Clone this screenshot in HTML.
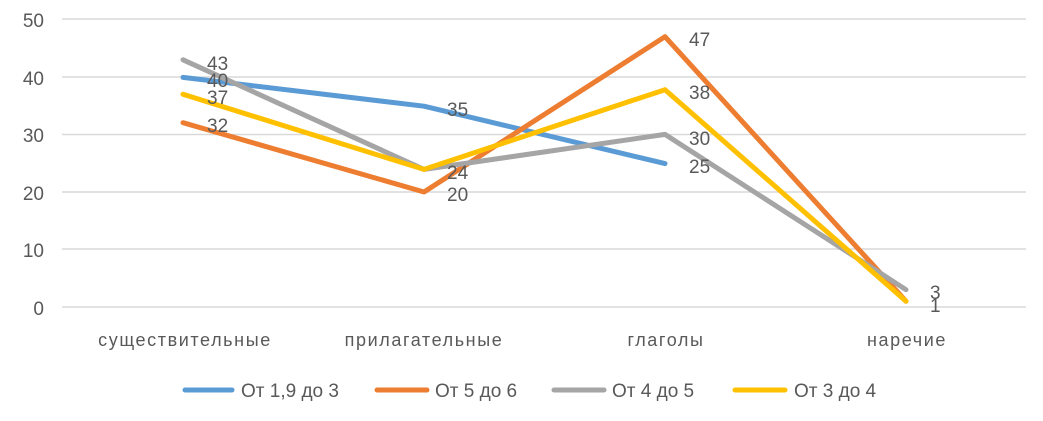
<!DOCTYPE html>
<html><head><meta charset="utf-8"><style>body{margin:0;background:#fff}</style></head><body>
<svg width="1043" height="416" xmlns="http://www.w3.org/2000/svg" font-family="Liberation Sans, sans-serif" fill="#595959">
<g stroke="#d9d9d9" stroke-width="1.5">
<line x1="62" x2="1026" y1="19" y2="19"/><line x1="62" x2="1026" y1="77" y2="77"/><line x1="62" x2="1026" y1="134.5" y2="134.5"/><line x1="62" x2="1026" y1="192" y2="192"/><line x1="62" x2="1026" y1="249" y2="249"/><line x1="62" x2="1026" y1="307" y2="307"/>
</g>
<g font-size="19" text-anchor="end">
<text x="44" y="27">50</text><text x="44" y="85">40</text><text x="44" y="142">30</text><text x="44" y="200">20</text><text x="44" y="257">10</text><text x="44" y="315">0</text>
</g>
<g fill="none" stroke-width="5" stroke-linecap="round" stroke-linejoin="round">
<polyline stroke="#5b9bd5" points="183,77.4 424,106.2 665,163.6"/>
<polyline stroke="#ed7d31" points="183,122.7 424,192 665,36.7 906,301.2"/>
<polyline stroke="#a5a5a5" points="183,59.8 424,169.4 665,134.4 906,289.7"/>
<polyline stroke="#ffc000" points="183,94.3 424,169.4 665,89.7 906,301.2"/>
</g>
<g font-size="19">
<text x="207" y="70">43</text><text x="207" y="87">40</text><text x="207" y="104">37</text><text x="207" y="132">32</text>
<text x="447" y="116">35</text><text x="447" y="179">24</text><text x="447" y="201">20</text>
<text x="689" y="46">47</text><text x="689" y="99">38</text><text x="689" y="145">30</text><text x="689" y="173">25</text>
<text x="930" y="299">3</text><text x="930" y="312">1</text>
</g>
<g font-size="18" text-anchor="middle" letter-spacing="1.6">
<text x="185" y="346">существительные</text><text x="424" y="346">прилагательные</text><text x="666" y="346">глаголы</text><text x="907" y="346">наречие</text>
</g>
<g stroke-width="5" stroke-linecap="round">
<line x1="185" x2="232" y1="390" y2="390" stroke="#5b9bd5"/>
<line x1="377" x2="427" y1="390" y2="390" stroke="#ed7d31"/>
<line x1="554" x2="604" y1="390" y2="390" stroke="#a5a5a5"/>
<line x1="735" x2="785" y1="390" y2="390" stroke="#ffc000"/>
</g>
<g font-size="19">
<text x="241" y="397">От 1,9 до 3</text><text x="435" y="397">От 5 до 6</text><text x="612" y="397">От 4 до 5</text><text x="794" y="397">От 3 до 4</text>
</g>
</svg>
</body></html>
